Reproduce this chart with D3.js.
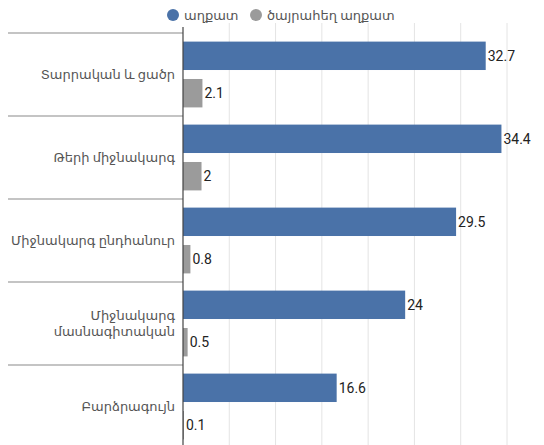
<!DOCTYPE html>
<meta charset="utf-8" />
<style>
  body { margin: 0; background: #fff; }
  text { font-family: Roboto, "DejaVu Sans", sans-serif; }
  .cat { font-size: 13px; fill: #555; }
  .val { font-size: 14px; fill: #222; }
  .leg { font-size: 13px; fill: #555; }
</style>
<body>
  <script src="https://d3js.org/d3.v7.min.js"></script>
  <script>
    // data
    var categories = [
      "Տարրական և ցածր",
      "Թերի միջնակարգ",
      "Միջնակարգ ընդհանուր",
      "Միջնակարգ մասնագիտական",
      "Բարձրագույն"
    ];
    var poor = [32.7, 34.4, 29.5, 24, 16.6];
    var extremePoor = [2.1, 2, 0.8, 0.5, 0.1];
    var seriesNames = ["աղքատ", "ծայրահեղ աղքատ"];
    var xTicks = [0, 5, 10, 15, 20, 25, 30, 35];

    var width = 544, height = 445;
    var plotLeft = 183, plotRight = 507, plotTop = 33, plotBottom = 448;
    var colors = ["#4a72a8", "#9b9b9b"];

    var svg = d3.select("body").append("svg")
      .attr("width", width).attr("height", height);

    var x = d3.scaleLinear().domain([0, 35]).range([plotLeft, plotRight]);
    var y = d3.scaleBand().domain(categories).range([plotTop, plotBottom]);
    var ySub = d3.scaleBand().domain([0, 1]).range([0, y.bandwidth()])
      .paddingInner(0.24).paddingOuter(0.23);

    // vertical grid lines
    svg.append("g").selectAll("line")
      .data(xTicks.slice(1))
      .enter().append("line")
      .attr("x1", function (d) { return x(d); })
      .attr("x2", function (d) { return x(d); })
      .attr("y1", 23).attr("y2", height)
      .attr("stroke", "#e4e4e4").attr("stroke-width", 1);

    // category separators on the left
    svg.append("g").selectAll("line")
      .data(categories)
      .enter().append("line")
      .attr("x1", 8).attr("x2", plotLeft)
      .attr("y1", function (d) { return y(d); })
      .attr("y2", function (d) { return y(d); })
      .attr("stroke", "#b0b0b0").attr("stroke-width", 1.5);

    // bars
    var rows = categories.map(function (c, i) {
      return { cat: c, vals: [poor[i], extremePoor[i]] };
    });
    var g = svg.append("g").selectAll("g")
      .data(rows).enter().append("g")
      .attr("transform", function (d) { return "translate(0," + y(d.cat) + ")"; });

    g.selectAll("rect")
      .data(function (d) { return d.vals; })
      .enter().append("rect")
      .attr("x", x(0))
      .attr("y", function (d, i) { return ySub(i); })
      .attr("width", function (d) { return Math.max(x(d) - x(0), 1); })
      .attr("height", ySub.bandwidth())
      .attr("fill", function (d, i) { return colors[i]; });

    g.selectAll(".val")
      .data(function (d) { return d.vals; })
      .enter().append("text")
      .attr("class", "val")
      .attr("x", function (d) { return Math.max(x(d), x(0) + 1) + 2; })
      .attr("y", function (d, i) { return ySub(i) + ySub.bandwidth() / 2; })
      .attr("dy", "0.35em")
      .text(function (d) { return d; });

    // category labels, wrapped when too long
    g.append("text")
      .attr("class", "cat")
      .attr("text-anchor", "end")
      .attr("x", 175)
      .attr("y", y.bandwidth() / 2)
      .each(function (d) {
        var t = d3.select(this);
        var words = d.cat.split(" ");
        var lines = d.cat.length > 20 ? words : [d.cat];
        lines.forEach(function (l, k) {
          t.append("tspan").attr("x", 175)
            .attr("dy", k === 0 ? (0.35 - (lines.length - 1) * 0.6) + "em" : "1.2em")
            .text(l);
        });
      });

    // axis line
    svg.append("line")
      .attr("x1", x(0)).attr("x2", x(0))
      .attr("y1", 27).attr("y2", height)
      .attr("stroke", "#444").attr("stroke-width", 1.2);

    // legend
    var legX = [173, 256];
    var leg = svg.append("g").selectAll("g")
      .data(seriesNames).enter().append("g")
      .attr("transform", function (d, i) { return "translate(" + legX[i] + ",15)"; });
    leg.append("circle").attr("r", 6)
      .attr("fill", function (d, i) { return colors[i]; });
    leg.append("text").attr("class", "leg")
      .attr("x", 11).attr("dy", "0.35em")
      .text(function (d) { return d; });
  </script>
</body>
